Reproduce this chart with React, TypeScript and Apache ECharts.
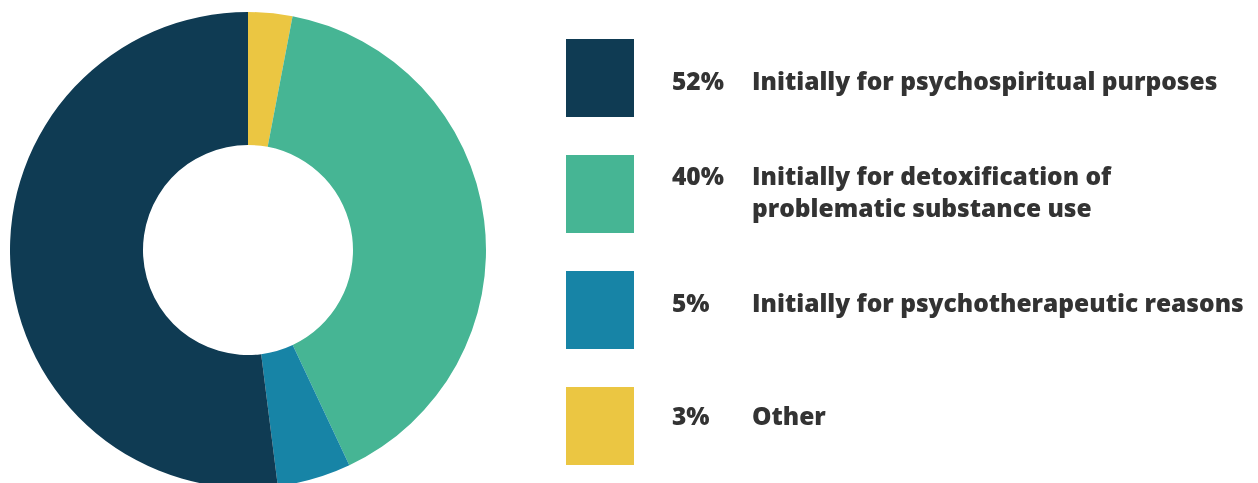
import React, { useEffect, useRef } from "react";
import * as echarts from "echarts";

const categories = [
  "Initially for psychospiritual purposes",
  "Initially for detoxification of\nproblematic substance use",
  "Initially for psychotherapeutic reasons",
  "Other",
];
const values = [52, 40, 5, 3];
const colors = ["#0f3b53", "#46b594", "#1784a6", "#ebc642"];
// clockwise order of slices starting at 12 o'clock
const pieOrder = [3, 1, 2, 0];

export default function App() {
  const ref = useRef<HTMLDivElement>(null);
  useEffect(() => {
    if (!ref.current) return;
    const chart = echarts.init(ref.current, null, { renderer: "svg" });
    const rowTop = 39;
    const rowStep = 116;
    const lineCenters = [82, 177, 304, 417];
    const textStyle = {
      fill: "#333333",
      fontFamily: "'Open Sans'",
      fontWeight: 800,
      fontSize: 24.5,
      lineHeight: 32,
      verticalAlign: "top",
    };
    const graphic: any[] = [];
    categories.forEach((c, i) => {
      const y = rowTop + rowStep * i;
      graphic.push({
        type: "rect",
        shape: { x: 566, y, width: 68, height: 78 },
        style: { fill: colors[i] },
      });
      graphic.push({
        type: "text",
        x: 672,
        y: lineCenters[i] - 17.5,
        style: { ...textStyle, text: values[i] + "%" },
      });
      graphic.push({
        type: "text",
        x: 752,
        y: lineCenters[i] - 17.5,
        style: { ...textStyle, text: c },
      });
    });
    chart.setOption({
      animation: false,
      series: [
        {
          type: "pie",
          center: [248, 250],
          radius: [105, 238],
          startAngle: 90,
          clockwise: true,
          label: { show: false },
          labelLine: { show: false },
          silent: true,
          data: pieOrder.map((i) => ({
            name: categories[i],
            value: values[i],
            itemStyle: { color: colors[i] },
          })),
        },
      ],
      graphic,
    });
    return () => chart.dispose();
  }, []);
  return (
    <div
      ref={ref}
      style={{ position: "fixed", left: 0, top: 0, width: 1258, height: 483 }}
    />
  );
}
